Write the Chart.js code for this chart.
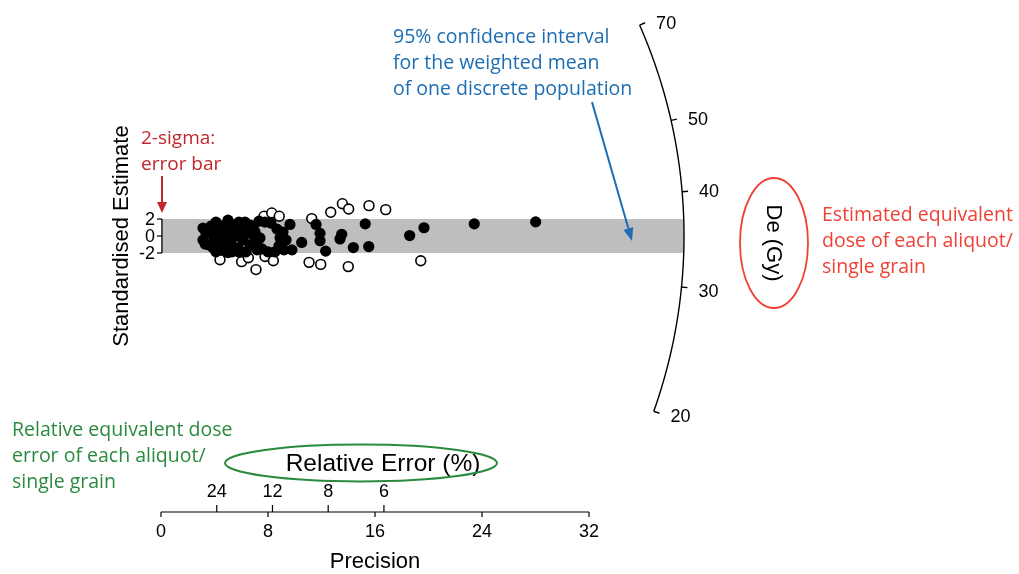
<!DOCTYPE html>
<html>
<head>
<meta charset="utf-8">
<script src="https://cdn.jsdelivr.net/npm/chart.js@4/dist/chart.umd.min.js"></script>
<style>
  html, body { margin: 0; padding: 0; background: #ffffff; overflow: hidden; }
  #wrap { width: 1019px; height: 574px; }
</style>
</head>
<body>
<div id="wrap"><canvas id="radial" width="1019" height="574"></canvas></div>
<script>
// Weighted mean equivalent dose (Gy) that the radial plot is centred on
const centralDe = 35;

// Aliquots inside the 2-sigma band: precision (1 / relative error) and standardised estimate
const insidePrecision = [
  9.64, 10.52, 11.59, 11.89, 11.89, 12.31, 13.51, 13.38, 14.38, 15.27, 15.53, 18.59, 19.66, 23.42, 28.01,
  3.14, 3.14, 3.36, 3.59, 3.74, 3.96, 4.19, 4.34, 4.56, 4.71, 4.86, 5.08, 5.23, 5.46, 5.61, 5.76,
  5.98, 6.13, 6.28, 6.36, 6.50, 6.65, 5.83, 5.31, 4.49, 3.89,
  6.88, 7.03, 7.18, 7.33, 7.78, 8.22, 8.67, 8.90, 8.82, 8.52, 8.00, 7.55, 7.10, 7.03, 9.20, 9.35, 9.79,
  3.51, 4.11, 5.01, 4.49, 5.38, 5.98, 4.11, 5.01, 5.83, 6.65, 7.40, 9.12, 3.30, 6.90
];
const insideZ = [
  1.36, -0.76, 1.36, 0.31, -0.55, -1.78, 0.20, -0.35, -1.36, 1.43, -1.24, 0.05, 0.97, 1.43, 1.66,
  0.93, -0.47, 0.35, -1.05, 1.16, -0.23, 0.70, -0.93, 1.16, 0.00, -1.40, 0.70, -0.70, 1.28, 0.00, -1.40,
  0.93, -0.47, 1.63, -1.86, 0.35, -1.05, 1.63, -1.86, -1.63, -1.40,
  1.16, -0.23, -1.63, 1.74, 1.63, 1.51, 0.81, -0.23, -1.16, -1.86, -1.86, -1.51, -0.93, 0.47, -1.63, -0.47, -1.63,
  0.58, 1.63, 1.86, -0.47, 0.35, 0.00, -1.86, -1.95, -1.90, 1.28, -0.23, 0.47, -0.95, 0.80
];

// Aliquots outside the 2-sigma band
const outsidePrecision = [
  11.27, 12.69, 13.56, 14.03, 15.55, 16.80, 11.07, 11.94, 14.00, 19.42,
  7.70, 8.28, 8.84, 4.41, 6.03, 6.53, 7.10, 7.78, 8.40
];
const outsideZ = [
  2.05, 2.79, 3.80, 3.17, 3.57, 3.10, -3.10, -3.34, -3.60, -2.91,
  2.33, 2.71, 2.33, -2.79, -3.02, -2.56, -3.95, -2.41, -2.91
];

// Axis tick labels
const precisionTicks = [0, 8, 16, 24, 32];
const relErrorTicks = [24, 12, 8, 6];   // percent, placed at precision = 100 / value
const zTicks = [-2, 0, 2];
const deTicks = [20, 30, 40, 50, 70];   // Gy, on the log-scaled arc
const deArcRange = [20, 70];

// Plot frame: precision runs out to the arc, standardised estimate spans the arc height
const ARC_PRECISION = 39.1;
const Z_MIN = -32, Z_MAX = 25;
const PRECISION_AXIS_Y = 512;
const AXIS_FONT = '"Liberation Sans", Arial, sans-serif';
const NOTE_FONT = '"Open Sans", "Noto Sans", sans-serif';
const DARK_RED = '#c1272d';
const RED = '#ef4136';
const BLUE = '#1c6db3';
const GREEN = '#2a8a3e';

const toPoints = (xs, ys) => xs.map((v, i) => ({ x: v, y: ys[i] }));

function drawLines(ctx, lines, x, y0, step, color, font, align) {
  ctx.fillStyle = color;
  ctx.font = font;
  ctx.textAlign = align || 'left';
  ctx.textBaseline = 'alphabetic';
  lines.forEach((t, i) => ctx.fillText(t, x, y0 + i * step));
}

function arrow(ctx, x1, y1, x2, y2, color, width, headLen, headHalf) {
  const ang = Math.atan2(y2 - y1, x2 - x1);
  const bx = x2 - headLen * Math.cos(ang), by = y2 - headLen * Math.sin(ang);
  ctx.strokeStyle = color;
  ctx.fillStyle = color;
  ctx.lineWidth = width;
  ctx.beginPath();
  ctx.moveTo(x1, y1);
  ctx.lineTo(bx, by);
  ctx.stroke();
  ctx.beginPath();
  ctx.moveTo(x2, y2);
  ctx.lineTo(bx + headHalf * Math.sin(ang), by - headHalf * Math.cos(ang));
  ctx.lineTo(bx - headHalf * Math.sin(ang), by + headHalf * Math.cos(ang));
  ctx.closePath();
  ctx.fill();
}

const radialPlot = {
  id: 'radialPlot',
  beforeDatasetsDraw(chart) {
    const { ctx, scales: { x, y } } = chart;
    const ox = x.getPixelForValue(0), oy = y.getPixelForValue(0);
    const R = x.getPixelForValue(ARC_PRECISION) - ox;
    // 2-sigma band around the central value, ending at the arc
    ctx.save();
    ctx.beginPath();
    ctx.moveTo(ox, oy);
    ctx.arc(ox, oy, R, -Math.PI / 2, Math.PI / 2);
    ctx.closePath();
    ctx.clip();
    const top = y.getPixelForValue(2), bot = y.getPixelForValue(-2);
    ctx.fillStyle = '#bebebe';
    ctx.fillRect(ox, top, R + 2, bot - top);
    ctx.restore();
  },
  afterDraw(chart) {
    const { ctx, scales: { x, y } } = chart;
    const ox = x.getPixelForValue(0), oy = y.getPixelForValue(0);
    const R = x.getPixelForValue(ARC_PRECISION) - ox;
    const arcPoint = (de, r) => {
      const s = Math.log(de / centralDe);
      const dx = x.getPixelForValue(1) - ox, dy = y.getPixelForValue(s) - oy;
      const len = Math.hypot(dx, dy);
      return [ox + r * dx / len, oy + r * dy / len];
    };
    ctx.save();

    // De arc
    ctx.strokeStyle = '#000';
    ctx.lineWidth = 1.4;
    ctx.beginPath();
    const n = 120;
    const l0 = Math.log(deArcRange[0]), l1 = Math.log(deArcRange[1]);
    for (let i = 0; i <= n; i++) {
      const p = arcPoint(Math.exp(l0 + (l1 - l0) * i / n), R);
      if (i === 0) ctx.moveTo(p[0], p[1]); else ctx.lineTo(p[0], p[1]);
    }
    ctx.stroke();
    ctx.font = '18px ' + AXIS_FONT;
    ctx.fillStyle = '#000';
    ctx.textAlign = 'left';
    ctx.textBaseline = 'middle';
    deTicks.forEach(d => {
      const a = arcPoint(d, R), b = arcPoint(d, R + 6);
      ctx.beginPath();
      ctx.moveTo(a[0], a[1]);
      ctx.lineTo(b[0], b[1]);
      ctx.stroke();
      const dy = d < centralDe ? 3 : 0;
      ctx.fillText(String(d), b[0] + 11, b[1] + 1 + dy);
    });

    // Standardised estimate axis
    const zt = y.getPixelForValue(2), zb = y.getPixelForValue(-2);
    const ax = ox + 1;
    ctx.lineWidth = 1.2;
    ctx.beginPath();
    ctx.moveTo(ax, zt);
    ctx.lineTo(ax, zb);
    ctx.stroke();
    ctx.textAlign = 'right';
    zTicks.forEach(v => {
      const py = y.getPixelForValue(v);
      ctx.beginPath();
      ctx.moveTo(ax - 5, py);
      ctx.lineTo(ax, py);
      ctx.stroke();
      ctx.fillText(String(v), ax - 7, py + 1);
    });
    ctx.save();
    ctx.translate(122, oy);
    ctx.rotate(-Math.PI / 2);
    ctx.textAlign = 'center';
    ctx.font = '22px ' + AXIS_FONT;
    ctx.fillText('Standardised Estimate', 0, 0);
    ctx.restore();

    // Precision axis with relative error ticks above it
    const py0 = PRECISION_AXIS_Y;
    ctx.beginPath();
    ctx.moveTo(x.getPixelForValue(precisionTicks[0]), py0);
    ctx.lineTo(x.getPixelForValue(precisionTicks[precisionTicks.length - 1]), py0);
    ctx.stroke();
    ctx.textAlign = 'center';
    ctx.font = '18px ' + AXIS_FONT;
    precisionTicks.forEach(v => {
      const px = x.getPixelForValue(v);
      ctx.beginPath();
      ctx.moveTo(px, py0);
      ctx.lineTo(px, py0 + 5);
      ctx.stroke();
      ctx.fillText(String(v), px, py0 + 20);
    });
    relErrorTicks.forEach(v => {
      const px = x.getPixelForValue(100 / v);
      ctx.beginPath();
      ctx.moveTo(px, py0);
      ctx.lineTo(px, py0 - 7);
      ctx.stroke();
      ctx.fillText(String(v), px, py0 - 20);
    });
    ctx.font = '22px ' + AXIS_FONT;
    ctx.fillText('Precision', x.getPixelForValue(16), 562);
    ctx.font = '24.5px ' + AXIS_FONT;
    ctx.textBaseline = 'alphabetic';
    ctx.fillText('Relative Error (%)', 383, 471);

    // De axis label inside its ellipse
    ctx.save();
    ctx.translate(774, 243);
    ctx.rotate(Math.PI / 2);
    ctx.textAlign = 'center';
    ctx.textBaseline = 'middle';
    ctx.font = '22px ' + AXIS_FONT;
    ctx.fillText('De (Gy)', 0, 1);
    ctx.restore();
    ctx.strokeStyle = RED;
    ctx.lineWidth = 1.8;
    ctx.beginPath();
    ctx.ellipse(774, 243, 34, 65, 0, 0, Math.PI * 2);
    ctx.stroke();

    // Relative error label ellipse
    ctx.strokeStyle = GREEN;
    ctx.lineWidth = 2;
    ctx.beginPath();
    ctx.ellipse(361, 463, 136, 18.5, 0, 0, Math.PI * 2);
    ctx.stroke();

    // Notes
    drawLines(ctx, ['2-sigma:', 'error bar'], 141, 144, 26, DARK_RED, '19px ' + NOTE_FONT);
    arrow(ctx, 162, 176, 162, 213, DARK_RED, 2, 11, 5);
    drawLines(ctx, ['95% confidence interval', 'for the weighted mean', 'of one discrete population'],
      393, 43, 26, BLUE, '19.5px ' + NOTE_FONT);
    arrow(ctx, 592, 102, 632, 241, BLUE, 2, 13, 5);
    drawLines(ctx, ['Estimated equivalent', 'dose of each aliquot/', 'single grain'],
      822, 221, 26, RED, '19.5px ' + NOTE_FONT);
    drawLines(ctx, ['Relative equivalent dose', 'error of each aliquot/', 'single grain'],
      12, 436, 26, GREEN, '19.5px ' + NOTE_FONT);

    ctx.restore();
  }
};

// Frame padding: the scales map precision 0..ARC_PRECISION and z Z_MIN..Z_MAX
// onto the region that holds the points, band and arc
const frameLeft = 161, frameRight = 684;
const pxPerZ = 8.5, zeroY = 236;
new Chart(document.getElementById('radial'), {
  type: 'scatter',
  data: {
    datasets: [
      {
        label: 'within 2 sigma',
        data: toPoints(insidePrecision, insideZ),
        pointRadius: 5.6,
        pointBackgroundColor: '#000',
        pointBorderColor: '#000',
        pointBorderWidth: 0,
        clip: false,
        order: 0
      },
      {
        label: 'outside 2 sigma',
        data: toPoints(outsidePrecision, outsideZ),
        pointRadius: 4.9,
        pointBackgroundColor: '#fff',
        pointBorderColor: '#000',
        pointBorderWidth: 1.6,
        clip: false,
        order: 1
      }
    ]
  },
  options: {
    responsive: false,
    animation: false,
    devicePixelRatio: 1,
    layout: {
      padding: {
        left: frameLeft,
        right: 1019 - frameRight,
        top: zeroY - Z_MAX * pxPerZ,
        bottom: 574 - (zeroY - Z_MIN * pxPerZ)
      }
    },
    scales: {
      x: { type: 'linear', min: 0, max: ARC_PRECISION, display: false },
      y: { type: 'linear', min: Z_MIN, max: Z_MAX, display: false }
    },
    plugins: { legend: { display: false }, tooltip: { enabled: false } },
    events: []
  },
  plugins: [radialPlot]
});
</script>
</body>
</html>
